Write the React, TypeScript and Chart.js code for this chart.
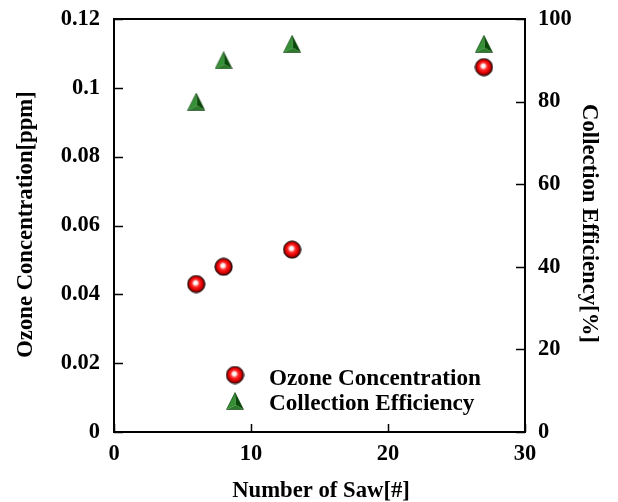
import React, { useEffect, useRef } from 'react';
import { Chart, registerables } from 'chart.js';

Chart.register(...registerables);

const sawCounts = [6, 8, 13, 27];
const ozonePpm = [0.043, 0.048, 0.053, 0.106];
const efficiencyPct = [80, 90, 94, 94];
const xTicks = [0, 10, 20, 30];
const leftTicks = [0, 0.02, 0.04, 0.06, 0.08, 0.1, 0.12];
const rightTicks = [0, 20, 40, 60, 80, 100];
const xTitle = 'Number of Saw[#]';
const leftTitle = 'Ozone Concentration[ppm]';
const rightTitle = 'Collection Efficiency[%]';
const seriesNames = ['Ozone Concentration', 'Collection Efficiency'];

const FAMILY = "'Liberation Serif', 'Times New Roman', serif";

function makeSphere(): HTMLCanvasElement {
  const c = document.createElement('canvas');
  c.width = 19;
  c.height = 19;
  const g = c.getContext('2d')!;
  const grad = g.createRadialGradient(8.6, 8.0, 0, 9.5, 9.5, 9);
  grad.addColorStop(0, '#ffffff');
  grad.addColorStop(0.2, '#fff4f4');
  grad.addColorStop(0.42, '#ff2a2a');
  grad.addColorStop(0.7, '#e20000');
  grad.addColorStop(0.88, '#7a0000');
  grad.addColorStop(1, '#100000');
  g.beginPath();
  g.arc(9.5, 9.5, 8.6, 0, Math.PI * 2);
  g.fillStyle = grad;
  g.fill();
  g.lineWidth = 1;
  g.strokeStyle = '#120000';
  g.stroke();
  return c;
}

function makeTriangle(): HTMLCanvasElement {
  const c = document.createElement('canvas');
  c.width = 18;
  c.height = 18;
  const g = c.getContext('2d')!;
  const A = [9, 0.5];
  const B = [0.5, 17.5];
  const C = [17.5, 17.5];
  const P = [10, 13];
  const face = (p1: number[], p2: number[], p3: number[], col: string) => {
    g.beginPath();
    g.moveTo(p1[0], p1[1]);
    g.lineTo(p2[0], p2[1]);
    g.lineTo(p3[0], p3[1]);
    g.closePath();
    g.fillStyle = col;
    g.fill();
  };
  face(A, B, P, '#358f35');
  face(A, P, C, '#084808');
  face(B, P, C, '#2a7a2a');
  g.beginPath();
  g.moveTo(A[0], A[1]);
  g.lineTo(B[0], B[1]);
  g.lineTo(C[0], C[1]);
  g.closePath();
  g.lineWidth = 0.6;
  g.strokeStyle = '#0b3d0b';
  g.stroke();
  return c;
}

const fmt = (v: number) => String(parseFloat(Number(v).toFixed(4)));

export default function App() {
  const ref = useRef<HTMLCanvasElement | null>(null);

  useEffect(() => {
    const canvas = ref.current;
    if (!canvas) return;
    const sphere = makeSphere();
    const tri = makeTriangle();

    const font = { family: FAMILY, weight: 'bold' as const, size: 22.5 };
    const grid = { display: false, drawTicks: false, tickLength: 0 };

    const framePlugin = {
      id: 'frameTicks',
      beforeDatasetsDraw(chart: any) {
        const { ctx, chartArea } = chart;
        const { left, right, top, bottom } = chartArea;
        ctx.save();
        ctx.strokeStyle = '#000';
        ctx.lineWidth = 2;
        ctx.strokeRect(left, top, right - left, bottom - top);
        ctx.lineWidth = 1.5;
        const xs = chart.scales.x;
        xTicks.forEach((v) => {
          const px = Math.round(xs.getPixelForValue(v)) + 0.5;
          ctx.beginPath();
          ctx.moveTo(px, bottom);
          ctx.lineTo(px, bottom - 8);
          ctx.stroke();
        });
        const ys = chart.scales.y;
        leftTicks.forEach((v) => {
          const py = Math.round(ys.getPixelForValue(v)) + 0.5;
          ctx.beginPath();
          ctx.moveTo(left, py);
          ctx.lineTo(left + 9, py);
          ctx.stroke();
        });
        const y1 = chart.scales.y1;
        rightTicks.forEach((v) => {
          const py = Math.round(y1.getPixelForValue(v)) + 0.5;
          ctx.beginPath();
          ctx.moveTo(right, py);
          ctx.lineTo(right - 9, py);
          ctx.stroke();
        });
        ctx.restore();
      },
      afterDraw(chart: any) {
        const { ctx, chartArea } = chart;
        const { left, right, top, bottom } = chartArea;
        ctx.save();
        ctx.fillStyle = '#000';
        ctx.font = `bold 22.7px ${FAMILY}`;
        ctx.textAlign = 'center';
        ctx.textBaseline = 'alphabetic';
        ctx.fillText(xTitle, (left + right) / 2 + 1.5, 497);
        ctx.save();
        ctx.translate(31.5, (top + bottom) / 2 - 1);
        ctx.rotate(-Math.PI / 2);
        ctx.fillText(leftTitle, 0, 0);
        ctx.restore();
        ctx.save();
        ctx.translate(583, (top + bottom) / 2 - 2);
        ctx.rotate(Math.PI / 2);
        ctx.fillText(rightTitle, 0, 0);
        ctx.restore();
        ctx.font = `bold 23.2px ${FAMILY}`;
        ctx.textAlign = 'left';
        ctx.drawImage(sphere, 235 - 9.5, 375 - 9.5);
        ctx.fillText(seriesNames[0], 269, 385);
        ctx.drawImage(tri, 235 - 9, 401 - 9);
        ctx.fillText(seriesNames[1], 269, 410);
        ctx.restore();
      },
    };

    const chart = new Chart(canvas, {
      type: 'scatter',
      data: {
        datasets: [
          {
            label: seriesNames[0],
            data: sawCounts.map((x, i) => ({ x, y: ozonePpm[i] })),
            yAxisID: 'y',
            pointStyle: sphere as any,
            pointRadius: 8,
            showLine: false,
          },
          {
            label: seriesNames[1],
            data: sawCounts.map((x, i) => ({ x, y: efficiencyPct[i] })),
            yAxisID: 'y1',
            pointStyle: tri as any,
            pointRadius: 8,
            showLine: false,
          },
        ],
      },
      options: {
        animation: false,
        responsive: false,
        events: [],
        layout: { padding: { top: 19, left: 0, right: 0, bottom: 0 } },
        plugins: { legend: { display: false }, tooltip: { enabled: false } },
        scales: {
          x: {
            type: 'linear',
            position: 'bottom',
            min: 0,
            max: 30,
            grid,
            border: { display: false },
            ticks: { padding: 9, font, color: '#000', maxRotation: 0, autoSkip: false, callback: (v: any) => fmt(v) },
            afterBuildTicks: (s: any) => {
              s.ticks = xTicks.map((v) => ({ value: v }));
            },
            afterFit: (s: any) => {
              s.height = 70;
              s.paddingLeft = 0;
              s.paddingRight = 0;
            },
          },
          y: {
            type: 'linear',
            position: 'left',
            min: 0,
            max: 0.12,
            grid,
            border: { display: false },
            ticks: { padding: 14, font, color: '#000', autoSkip: false, callback: (v: any) => fmt(v) },
            afterBuildTicks: (s: any) => {
              s.ticks = leftTicks.map((v) => ({ value: v }));
            },
            afterFit: (s: any) => {
              s.width = 114;
              s.paddingTop = 0;
              s.paddingBottom = 0;
            },
          },
          y1: {
            type: 'linear',
            position: 'right',
            min: 0,
            max: 100,
            grid,
            border: { display: false },
            ticks: { padding: 13, font, color: '#000', autoSkip: false, callback: (v: any) => fmt(v) },
            afterBuildTicks: (s: any) => {
              s.ticks = rightTicks.map((v) => ({ value: v }));
            },
            afterFit: (s: any) => {
              s.width = 93;
              s.paddingTop = 0;
              s.paddingBottom = 0;
            },
          },
        },
      } as any,
      plugins: [framePlugin],
    });

    return () => chart.destroy();
  }, []);

  return (
    <div style={{ position: 'absolute', left: 0, top: 0, width: 618, height: 502, background: '#fff' }}>
      <canvas ref={ref} width={618} height={502} style={{ display: 'block', width: 618, height: 502 }} />
    </div>
  );
}
